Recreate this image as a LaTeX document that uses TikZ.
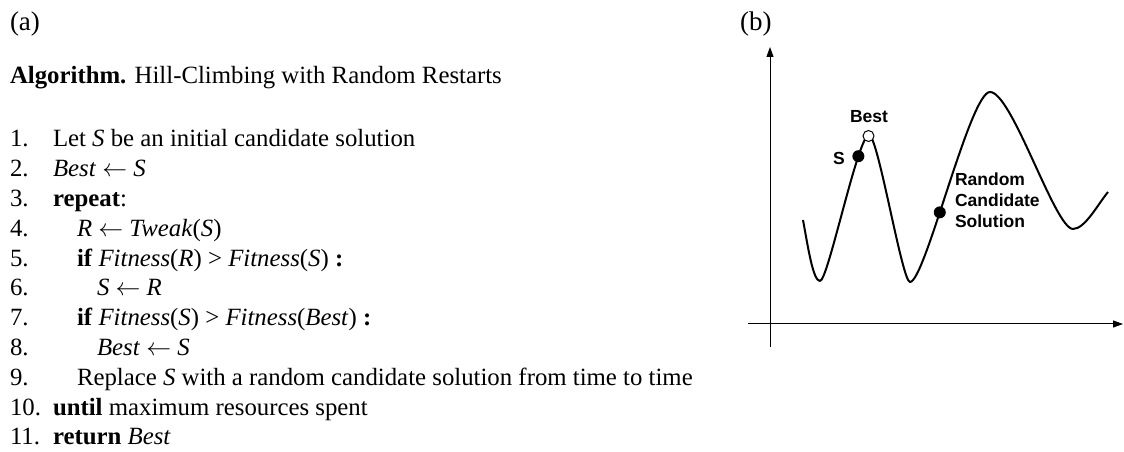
\documentclass[tikz,border=0pt]{standalone}
\usepackage{fontspec}
\setmainfont{Liberation Serif}
\newfontfamily\labelsans{Liberation Sans}
\usetikzlibrary{arrows.meta}
\newcommand{\assignarrow}{$\leftarrow$}
\begin{document}
\begin{tikzpicture}[x=1pt,y=1pt,
  algtext/.style={anchor=base west, inner sep=0pt, outer sep=0pt,
    font=\fontsize{24.8}{29.8}\selectfont},
  panel/.style={anchor=base west, inner sep=0pt, outer sep=0pt,
    font=\fontsize{27}{32}\selectfont},
  plotlabel/.style={inner sep=0pt, outer sep=0pt, align=left,
    font=\labelsans\bfseries\fontsize{17.5}{21}\selectfont},
  axis/.style={line width=1pt, -{Triangle[length=10pt,width=7pt]}},
  landscape/.style={line width=2pt, line join=round},
  dot/.style={circle, fill=black, inner sep=0pt, minimum size=12pt},
  opendot/.style={circle, draw=black, fill=white, line width=1pt,
    inner sep=0pt, minimum size=11pt}]
\useasboundingbox (0,0) rectangle (1124,452);

% ---------------- (a) the algorithm ----------------
\node[panel] (pa) at (10,421) {(a)};
\node[algtext] (title) at (10,368) {\textbf{Algorithm.} Hill-Climbing with Random Restarts};

\node[algtext] (n1)  at (10,305.0) {1.};
\node[algtext] (n2)  at (10,275.2) {2.};
\node[algtext] (n3)  at (10,245.4) {3.};
\node[algtext] (n4)  at (10,215.6) {4.};
\node[algtext] (n5)  at (10,185.8) {5.};
\node[algtext] (n6)  at (10,156.0) {6.};
\node[algtext] (n7)  at (10,126.2) {7.};
\node[algtext] (n8)  at (10,96.4)  {8.};
\node[algtext] (n9)  at (10,66.6)  {9.};
\node[algtext] (n10) at (10,36.8)  {10.};
\node[algtext] (n11) at (10,7.0)   {11.};

\node[algtext] (l1)  at (53,305.0) {Let \textit{S} be an initial candidate solution};
\node[algtext] (l2)  at (53,275.2) {\textit{Best} \assignarrow{} \textit{S}};
\node[algtext] (l3)  at (53,245.4) {\textbf{repeat}:};
\node[algtext] (l4)  at (77,215.6) {\textit{R} \assignarrow{} \textit{Tweak}(\textit{S})};
\node[algtext] (l5)  at (77,185.8) {\textbf{if} \textit{Fitness}(\textit{R}) > \textit{Fitness}(\textit{S}) \textbf{:}};
\node[algtext] (l6)  at (97,156.0) {\textit{S} \assignarrow{} \textit{R}};
\node[algtext] (l7)  at (77,126.2) {\textbf{if} \textit{Fitness}(\textit{S}) > \textit{Fitness}(\textit{Best}) \textbf{:}};
\node[algtext] (l8)  at (97,96.4)  {\textit{Best} \assignarrow{} \textit{S}};
\node[algtext] (l9)  at (77,66.6)  {Replace \textit{S} with a random candidate solution from time to time};
\node[algtext] (l10) at (53,36.8)  {\textbf{until} maximum resources spent};
\node[algtext] (l11) at (53,7.0)   {\textbf{return} \textit{Best}};

% ---------------- (b) the fitness landscape ----------------
\node[panel] (pb) at (740,421) {(b)};

\coordinate (ybot) at (770,105);
\coordinate (ytop) at (770,405);
\coordinate (xleft) at (748,128);
\coordinate (xright) at (1123,128);
\draw[axis] (ybot) -- (ytop);
\draw[axis] (xleft) -- (xright);

\draw[landscape] (803,232)
  .. controls (808,205) and (813,171) .. (820,171)
  .. controls (828,171) and (858,317) .. (869,317)
     coordinate[pos=0.76] (sp)
  .. controls (878,317) and (902,170) .. (910,170)
  .. controls (925,170) and (970,360) .. (990,360)
     coordinate[pos=0.41] (rp)
  .. controls (1012,360) and (1055,223) .. (1073,223)
  .. controls (1085,223) and (1098,248) .. (1108,260);
\coordinate (bp) at (868.5,316);

\node[opendot] (best) at (bp) {};
\node[dot] (s) at (sp) {};
\node[dot] (r) at (rp) {};

\node[plotlabel, anchor=base] (bestlbl) at (869,329) {Best};
\node[plotlabel, anchor=base west] (slbl) at (833,287) {S};
\node[plotlabel, anchor=base west] (rlbl) at (955,224)
  {Random\\Candidate\\Solution};
\end{tikzpicture}
\end{document}
